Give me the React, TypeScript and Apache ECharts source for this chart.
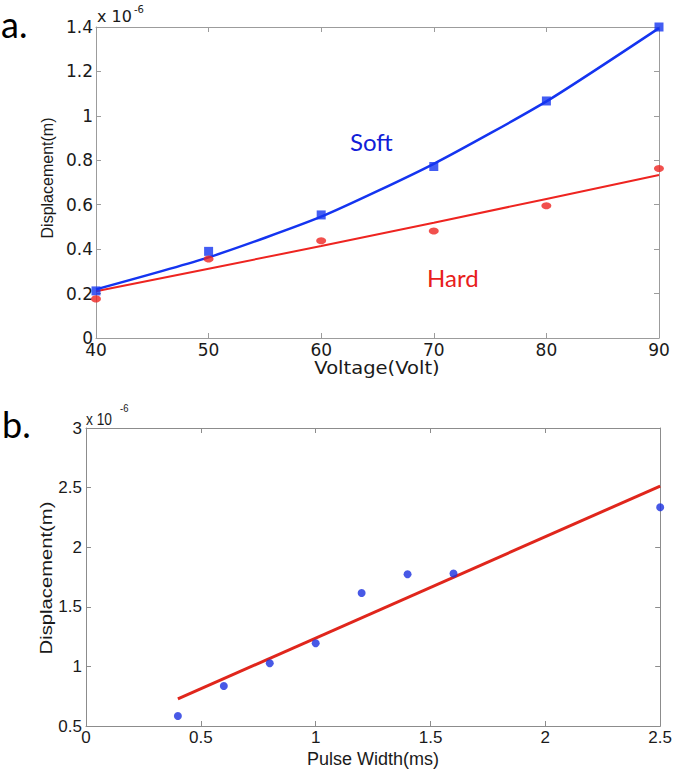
import React, { useEffect, useRef } from "react";
import * as echarts from "echarts";

// Panel a: displacement vs voltage
const voltage = [40, 50, 60, 70, 80, 90];
const softMeasured = [0.212, 0.39, 0.554, 0.772, 1.067, 1.4];
const softFit = [0.219, 0.363, 0.546, 0.784, 1.065, 1.395];
const hardMeasured = [0.176, 0.356, 0.438, 0.482, 0.595, 0.763];
const hardFit = [0.21, 0.312, 0.414, 0.519, 0.626, 0.734];

// Panel b: displacement vs pulse width
const pulseWidth = [0.4, 0.6, 0.8, 1.0, 1.2, 1.4, 1.6, 2.5];
const pulseMeasured = [0.584, 0.836, 1.026, 1.194, 1.616, 1.773, 1.78, 2.335];
const pulseFitX = [0.4, 2.5];
const pulseFitY = [0.727, 2.513];

const AXIS_GRAY = "#9c9c9c";
const BLUE = "#1434f0";
const RED = "#ee2420";

const pair = (xs: number[], ys: number[]) => xs.map((x, i) => [x, ys[i]]);

function mkAxis(opts: any) {
  const { grid, pos, min, max, interval, label, font, size, margin, color } = opts;
  return {
    type: "value",
    gridIndex: grid,
    position: pos,
    min,
    max,
    interval,
    axisLine: { show: true, onZero: false, lineStyle: { color: color || AXIS_GRAY, width: 1 } },
    axisTick: { show: true, inside: true, length: 5, lineStyle: { color: color || AXIS_GRAY, width: 1 } },
    splitLine: { show: false },
    axisLabel: {
      show: label,
      color: "#1a1a1a",
      fontFamily: font,
      fontSize: size,
      margin,
      showMinLabel: true,
      showMaxLabel: true,
    },
  };
}

const txt = (x: number, y: number, text: string, font: string, fill: string, extra: any = {}) => ({
  type: "text",
  x,
  y,
  ...extra,
  style: { text, font, fill, verticalAlign: "top", ...(extra.style || {}) },
});

export default function App() {
  const ref = useRef<HTMLDivElement>(null);
  useEffect(() => {
    document.body.style.margin = "0";
    const chart = echarts.init(ref.current!, null, { renderer: "svg" });
    const fontA = "DejaVu Sans";
    const fontB = "Liberation Sans";
    const option: any = {
      animation: false,
      backgroundColor: "#ffffff",
      grid: [
        { left: 96, top: 27, width: 563, height: 311 },
        { left: 86, top: 428, width: 575, height: 298 },
      ],
      xAxis: [
        mkAxis({ grid: 0, pos: "bottom", min: 40, max: 90, interval: 10, label: true, font: fontA, size: 17, margin: 3 }),
        mkAxis({ grid: 0, pos: "top", min: 40, max: 90, interval: 10, label: false }),
        mkAxis({ grid: 1, pos: "bottom", min: 0, max: 2.5, interval: 0.5, label: true, font: fontB, size: 17, margin: 3, color: "#8c8c8c" }),
        mkAxis({ grid: 1, pos: "top", min: 0, max: 2.5, interval: 0.5, label: false, color: "#8c8c8c" }),
      ],
      yAxis: [
        mkAxis({ grid: 0, pos: "left", min: 0, max: 1.4, interval: 0.2, label: true, font: fontA, size: 17, margin: 3 }),
        mkAxis({ grid: 0, pos: "right", min: 0, max: 1.4, interval: 0.2, label: false }),
        mkAxis({ grid: 1, pos: "left", min: 0.5, max: 3, interval: 0.5, label: true, font: fontB, size: 17, margin: 4, color: "#8c8c8c" }),
        mkAxis({ grid: 1, pos: "right", min: 0.5, max: 3, interval: 0.5, label: false, color: "#8c8c8c" }),
      ],
      series: [
        {
          name: "Soft fit",
          type: "line",
          xAxisIndex: 0,
          yAxisIndex: 0,
          data: pair(voltage, softFit),
          showSymbol: false,
          smooth: 0.2,
          lineStyle: { color: BLUE, width: 2.5 },
          clip: false,
          z: 3,
        },
        {
          name: "Hard fit",
          type: "line",
          xAxisIndex: 0,
          yAxisIndex: 0,
          data: pair(voltage, hardFit),
          showSymbol: false,
          lineStyle: { color: RED, width: 2 },
          clip: false,
          z: 2,
        },
        {
          name: "Soft",
          type: "scatter",
          xAxisIndex: 0,
          yAxisIndex: 0,
          data: pair(voltage, softMeasured),
          symbol: "rect",
          symbolSize: 9,
          itemStyle: { color: BLUE },
          clip: false,
          z: 4,
        },
        {
          name: "Hard",
          type: "scatter",
          xAxisIndex: 0,
          yAxisIndex: 0,
          data: pair(voltage, hardMeasured),
          symbol: "circle",
          symbolSize: [10, 7],
          itemStyle: { color: RED },
          clip: false,
          z: 4,
        },
        {
          name: "Pulse fit",
          type: "line",
          xAxisIndex: 2,
          yAxisIndex: 2,
          data: pair(pulseFitX, pulseFitY),
          showSymbol: false,
          lineStyle: { color: "#e0261c", width: 3 },
          clip: false,
          z: 2,
        },
        {
          name: "Pulse",
          type: "scatter",
          xAxisIndex: 2,
          yAxisIndex: 2,
          data: pair(pulseWidth, pulseMeasured),
          symbol: "circle",
          symbolSize: 8,
          itemStyle: { color: "#1a2fe0" },
          clip: false,
          z: 4,
        },
      ],
      graphic: [
        txt(1, 6, "a.", "36px Lato", "#000"),
        txt(2, 406, "b.", "36px Lato", "#000"),
        txt(350, 129, "Soft", "24px Lato", "#1020d8"),
        txt(427, 265, "Hard", "24px Lato", "#e8201c"),
        // exponent, panel a
        txt(97, 8, "x 10", "16px 'DejaVu Sans'", "#1a1a1a"),
        txt(134, 4, "-6", "10px 'DejaVu Sans'", "#1a1a1a"),
        // exponent, panel b
        txt(86, 411, "x 10", "16px 'Liberation Sans'", "#1a1a1a", { scaleX: 0.86 }),
        txt(120, 403, "-6", "11px 'Liberation Sans'", "#1a1a1a", { scaleX: 0.86 }),
        // axis titles
        {
          type: "text",
          x: 47,
          y: 178,
          rotation: Math.PI / 2,
          style: { text: "Displacement(m)", font: "16px 'Liberation Sans'", fill: "#1a1a1a", align: "center", verticalAlign: "middle" },
        },
        {
          type: "text",
          x: 377,
          y: 368,
          scaleX: 1.15,
          style: { text: "Voltage(Volt)", font: "17px 'DejaVu Sans'", fill: "#1a1a1a", align: "center", verticalAlign: "middle" },
        },
        {
          type: "text",
          x: 46,
          y: 578,
          rotation: Math.PI / 2,
          scaleX: 1.19,
          style: { text: "Displacement(m)", font: "17px 'Liberation Sans'", fill: "#1a1a1a", align: "center", verticalAlign: "middle" },
        },
        {
          type: "text",
          x: 373,
          y: 759,
          style: { text: "Pulse Width(ms)", font: "18px 'Liberation Sans'", fill: "#1a1a1a", align: "center", verticalAlign: "middle" },
        },
      ],
    };
    chart.setOption(option);
    return () => chart.dispose();
  }, []);
  return <div ref={ref} style={{ width: 675, height: 780, background: "#fff" }} />;
}
